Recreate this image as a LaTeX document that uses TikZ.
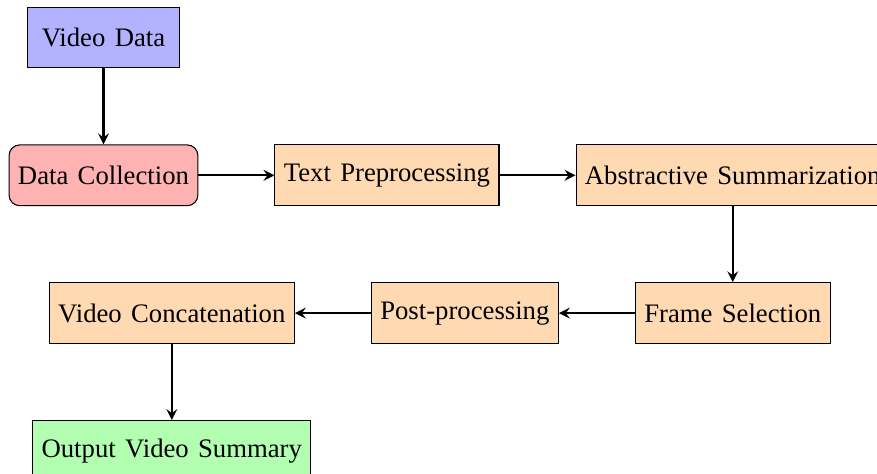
\documentclass[tikz,border=0pt]{standalone}
\usepackage{fontspec}
\setmainfont[WordSpace=1.4]{Liberation Serif}
\usetikzlibrary{positioning}

\begin{document}
\begin{tikzpicture}[node distance=1cm,
  every node/.style={minimum width=2cm, minimum height=0.8cm, text centered, draw=black},
  io/.style={rectangle, fill=blue!30},
  startstop/.style={rectangle, rounded corners, fill=red!30},
  process/.style={rectangle, fill=orange!30},
  result/.style={rectangle, fill=green!30},
  arrow/.style={thick, ->, >=stealth}]
  \useasboundingbox (-1.362,-5.743) rectangle (10.18,0.493);

  \node[io] (video) at (0,0) {Video Data};
  \node[startstop, below=of video] (collect) {Data Collection};
  \node[process, right=of collect] (prep) {Text Preprocessing};
  \node[process, right=of prep] (summ) {Abstractive Summarization};
  \node[process, below=of summ] (frame) {Frame Selection};
  \node[process, left=of frame] (post) {Post-processing};
  \node[process, left=of post] (concat) {Video Concatenation};
  \node[result, below=of concat] (output) {Output Video Summary};

  \draw[arrow] (video) -- (collect);
  \draw[arrow] (collect) -- (prep);
  \draw[arrow] (prep) -- (summ);
  \draw[arrow] (summ) -- (frame);
  \draw[arrow] (frame) -- (post);
  \draw[arrow] (post) -- (concat);
  \draw[arrow] (concat) -- (output);
\end{tikzpicture}
\end{document}
